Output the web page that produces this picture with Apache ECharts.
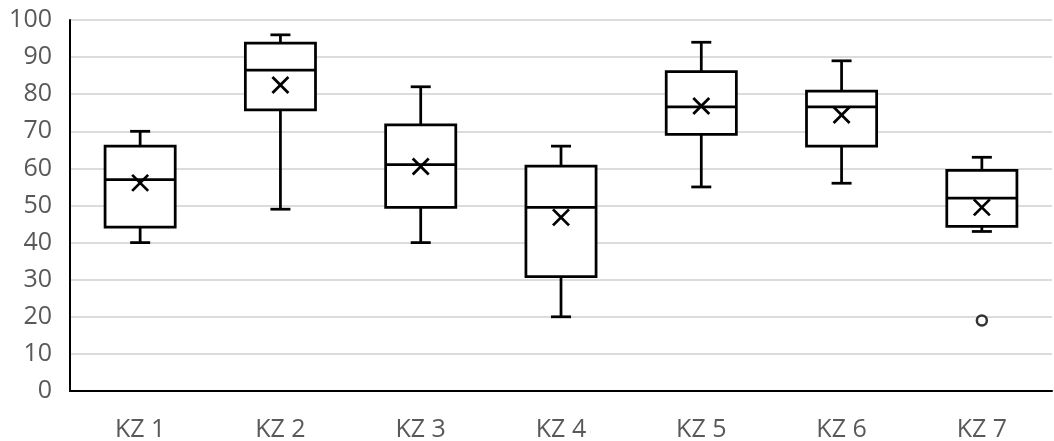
<!DOCTYPE html>
<html>
<head>
<meta charset="utf-8">
<script src="https://cdn.jsdelivr.net/npm/echarts@6/dist/echarts.min.js"></script>
<style>html,body{margin:0;padding:0;background:#fff}#c{width:1054px;height:441px}</style>
</head>
<body>
<div id="c"></div>
<script>
const categories = ['KZ 1','KZ 2','KZ 3','KZ 4','KZ 5','KZ 6','KZ 7'];
const whiskerLow  = [40, 49, 40, 20, 55, 56, 43];
const q1          = [44.2, 75.8, 49.5, 30.8, 69.2, 66.0, 44.4];
const median      = [57.0, 86.5, 61.0, 49.5, 76.6, 76.6, 52.0];
const q3          = [66.0, 93.8, 71.7, 60.6, 86.1, 80.8, 59.5];
const whiskerHigh = [70, 96, 82, 66, 94, 89, 63];
const means       = [56.1, 82.5, 60.5, 46.8, 76.8, 74.4, 49.5];
const outliers    = [[6, 19]];
const yTicks = {min: 0, max: 100, interval: 10};

const boxData = categories.map((c, i) => [i, whiskerLow[i], q1[i], median[i], q3[i], whiskerHigh[i], means[i]]);
const stroke = '#000';
const lw = 2.75;

function renderBox(params, api) {
  const i = api.value(0);
  const band = api.size([1, 0])[0];
  const halfBox = band * 0.25;
  const halfCap = 10;
  const pLow = api.coord([i, api.value(1)]);
  const pQ1 = api.coord([i, api.value(2)]);
  const pMed = api.coord([i, api.value(3)]);
  const pQ3 = api.coord([i, api.value(4)]);
  const pHigh = api.coord([i, api.value(5)]);
  const pMean = api.coord([i, api.value(6)]);
  const x = pMed[0];
  const st = {stroke: stroke, lineWidth: lw, fill: null};
  const m = 8;
  return {
    type: 'group',
    children: [
      {type: 'line', shape: {x1: x, y1: pQ3[1], x2: x, y2: pHigh[1]}, style: st},
      {type: 'line', shape: {x1: x, y1: pQ1[1], x2: x, y2: pLow[1]}, style: st},
      {type: 'line', shape: {x1: x - halfCap, y1: pHigh[1], x2: x + halfCap, y2: pHigh[1]}, style: st},
      {type: 'line', shape: {x1: x - halfCap, y1: pLow[1], x2: x + halfCap, y2: pLow[1]}, style: st},
      {type: 'rect', shape: {x: x - halfBox, y: pQ3[1], width: halfBox * 2, height: pQ1[1] - pQ3[1]}, style: {stroke: stroke, lineWidth: lw, fill: '#fff'}},
      {type: 'line', shape: {x1: x - halfBox, y1: pMed[1], x2: x + halfBox, y2: pMed[1]}, style: st},
      {type: 'line', shape: {x1: x - m, y1: pMean[1] - m, x2: x + m, y2: pMean[1] + m}, style: st},
      {type: 'line', shape: {x1: x - m, y1: pMean[1] + m, x2: x + m, y2: pMean[1] - m}, style: st}
    ]
  };
}

const chart = echarts.init(document.getElementById('c'), null, {renderer: 'canvas'});
chart.setOption({
  animation: false,
  backgroundColor: '#fff',
  grid: {left: 70, right: 2, top: 20, bottom: 50, containLabel: false, outerBoundsMode: 'none'},
  xAxis: {
    type: 'category',
    data: categories,
    boundaryGap: true,
    axisLine: {show: true, lineStyle: {color: '#000', width: 2}},
    axisTick: {show: false},
    axisLabel: {color: '#595959', fontSize: 25, fontFamily: 'Open Sans', margin: 26},
    splitLine: {show: false}
  },
  yAxis: {
    type: 'value',
    min: yTicks.min, max: yTicks.max, interval: yTicks.interval,
    axisLine: {show: true, lineStyle: {color: '#000', width: 2}},
    axisTick: {show: false},
    axisLabel: {color: '#595959', fontSize: 25, fontFamily: 'Open Sans', margin: 18},
    splitLine: {show: true, lineStyle: {color: '#d0d0d0', width: 1.5}}
  },
  series: [
    {
      type: 'custom',
      renderItem: renderBox,
      data: boxData,
      encode: {x: 0, y: [1, 2, 3, 4, 5]},
      z: 3
    },
    {
      type: 'scatter',
      data: outliers,
      symbol: 'circle',
      symbolSize: 10,
      itemStyle: {color: '#fff', borderColor: '#000', borderWidth: 2.5},
      z: 4
    }
  ]
});
</script>
</body>
</html>
